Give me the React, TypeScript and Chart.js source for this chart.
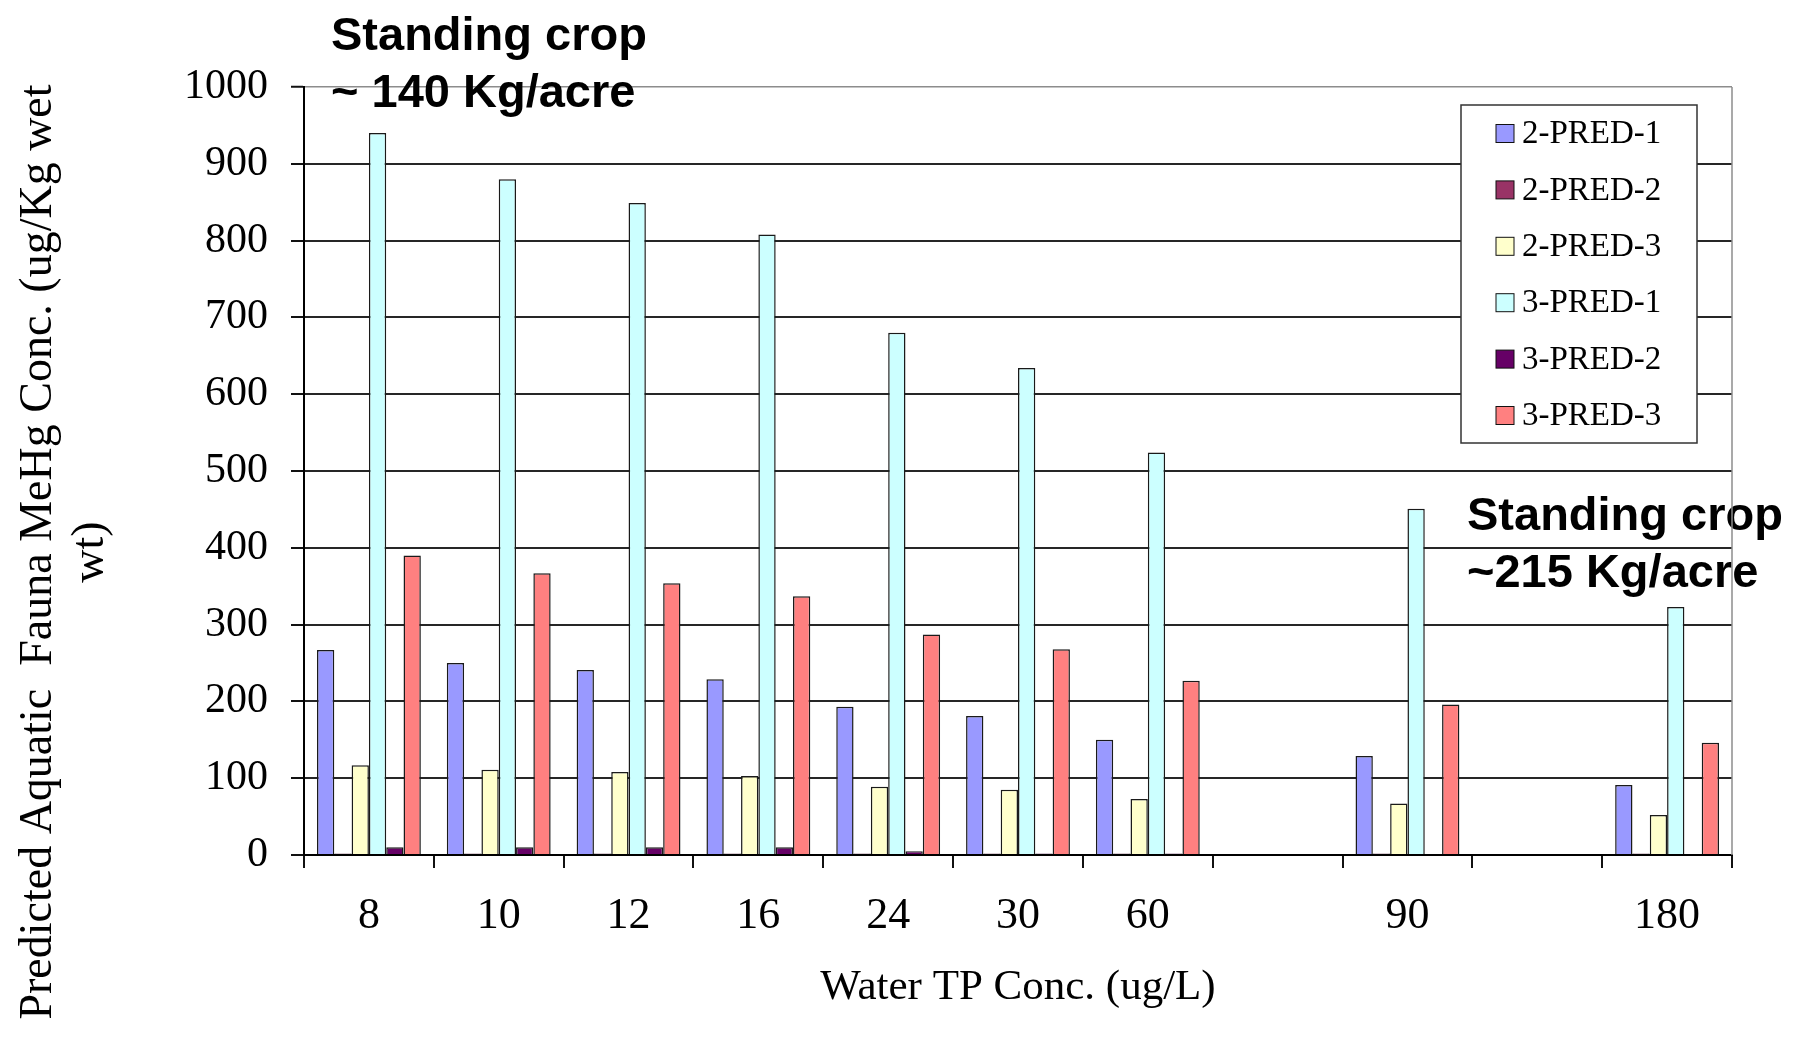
import React, { useEffect, useRef } from "react";
import { Chart, registerables } from "chart.js";

Chart.register(...registerables);

const categories = ["8", "10", "12", "16", "24", "30", "60", "", "90", "", "180"];
const seriesNames = ["2-PRED-1", "2-PRED-2", "2-PRED-3", "3-PRED-1", "3-PRED-2", "3-PRED-3"];
const pred2_1 = [267, 250, 241, 229, 193, 181, 150, null, 129, null, 91];
const pred2_2 = [2, 2, 2, 2, 2, 2, 2, null, 2, null, 2];
const pred2_3 = [117, 111, 108, 103, 89, 85, 73, null, 67, null, 52];
const pred3_1 = [940, 880, 849, 808, 680, 634, 524, null, 451, null, 323];
const pred3_2 = [10, 10, 10, 10, 5, 2, 2, null, 1, null, 1];
const pred3_3 = [390, 367, 354, 337, 287, 268, 227, null, 196, null, 146];
const seriesColors = ["#9999FF", "#993366", "#FFFFCC", "#CCFFFF", "#660066", "#FF8080"];
const yTicks = [0, 100, 200, 300, 400, 500, 600, 700, 800, 900, 1000];

const yTitleLines = ["Predicted Aquatic  Fauna MeHg Conc. (ug/Kg wet", "wt)"];
const xTitle = "Water TP Conc. (ug/L)";
const note1 = ["Standing crop", "~ 140 Kg/acre"];
const note2 = ["Standing crop", "~215 Kg/acre"];

const SERIF = '"Liberation Serif", "Times New Roman", serif';
const SANS = '"Liberation Sans", Arial, sans-serif';

const overlayPlugin = {
  id: "overlay",
  afterDatasetsDraw(chart: any) {
    const ctx: CanvasRenderingContext2D = chart.ctx;
    // legend
    ctx.save();
    const bx = 1461, by = 105, bw = 236, bh = 338;
    ctx.fillStyle = "#ffffff";
    ctx.fillRect(bx, by, bw, bh);
    ctx.strokeStyle = "#333333";
    ctx.lineWidth = 1.5;
    ctx.strokeRect(bx, by, bw, bh);
    ctx.font = `33px ${SERIF}`;
    ctx.textAlign = "left";
    ctx.textBaseline = "middle";
    chart.data.datasets.forEach((ds: any, i: number) => {
      const cy = 133.5 + i * 56.4;
      ctx.fillStyle = ds.backgroundColor;
      ctx.fillRect(1496, cy - 9, 18, 18);
      ctx.strokeStyle = "#111";
      ctx.lineWidth = 1;
      ctx.strokeRect(1496, cy - 9, 18, 18);
      ctx.fillStyle = "#000";
      ctx.fillText(ds.label, 1522, cy + 1);
    });
    // annotations
    ctx.font = `bold 47px ${SANS}`;
    ctx.textBaseline = "alphabetic";
    ctx.fillStyle = "#000";
    ctx.fillText(note1[0], 331, 50);
    ctx.fillText(note1[1], 331, 107);
    ctx.fillText(note2[0], 1467, 530);
    ctx.fillText(note2[1], 1467, 587);
    ctx.restore();
  },
  afterDraw(chart: any) {
    const ctx: CanvasRenderingContext2D = chart.ctx;
    const a = chart.chartArea;
    ctx.save();
    ctx.strokeStyle = "#8c8c8c";
    ctx.lineWidth = 1.5;
    ctx.beginPath();
    ctx.moveTo(a.right, a.top);
    ctx.lineTo(a.right, a.bottom);
    ctx.stroke();
    // y title
    ctx.translate(51, 552);
    ctx.rotate(-Math.PI / 2);
    ctx.font = `46px ${SERIF}`;
    ctx.fillStyle = "#000";
    ctx.textAlign = "center";
    ctx.textBaseline = "alphabetic";
    ctx.fillText(yTitleLines[0], 0, 0);
    ctx.fillText(yTitleLines[1], 0, 52);
    ctx.restore();
  },
};

export default function App() {
  const ref = useRef<HTMLCanvasElement | null>(null);
  useEffect(() => {
    if (!ref.current) return;
    const all = [pred2_1, pred2_2, pred2_3, pred3_1, pred3_2, pred3_3];
    const chart = new Chart(ref.current, {
      type: "bar",
      data: {
        labels: categories,
        datasets: all.map((d, i) => ({
          label: seriesNames[i],
          data: d,
          backgroundColor: seriesColors[i],
          borderColor: "#1a1a1a",
          borderWidth: 1.5,
          categoryPercentage: 0.8,
          barPercentage: 1.0,
        })),
      },
      options: {
        animation: false,
        responsive: false,
        devicePixelRatio: 1,
        layout: { padding: { top: 87, right: 73, left: 0, bottom: 0 } },
        plugins: { legend: { display: false }, tooltip: { enabled: false } },
        scales: {
          x: {
            afterFit: (s: any) => { s.height = 182; },
            grid: {
              display: true,
              drawOnChartArea: false,
              drawTicks: true,
              tickLength: 13,
              color: "#111",
              lineWidth: 2,
              offset: true,
            },
            border: { display: true, color: "#000", width: 2 },
            ticks: {
              autoSkip: false,
              maxRotation: 0,
              padding: 22,
              color: "#000",
              font: { family: SERIF, size: 44 },
            },
            title: {
              display: true,
              text: xTitle,
              color: "#000",
              font: { family: SERIF, size: 43 },
              padding: { top: 0, bottom: 23 },
            },
          },
          y: {
            min: 0,
            max: 1000,
            afterFit: (s: any) => { s.width = 304; },
            afterBuildTicks: (s: any) => { s.ticks = yTicks.map((v) => ({ value: v })); },
            grid: {
              color: (c: any) => (c.tick && c.tick.value === 1000 ? "#8c8c8c" : "#262626"),
              lineWidth: (c: any) => (c.tick && c.tick.value === 1000 ? 1.5 : 2),
              tickColor: "#111",
              tickLength: 13,
              tickWidth: 2,
            },
            border: { display: true, color: "#000", width: 2 },
            ticks: {
              padding: 23,
              color: "#000",
              font: { family: SERIF, size: 42 },
              callback: (v: any) => String(v),
            },
          },
        },
      },
      plugins: [overlayPlugin],
    } as any);
    return () => chart.destroy();
  }, []);
  return (
    <div style={{ position: "fixed", left: 0, top: 0, width: 1805, height: 1037, background: "#fff" }}>
      <canvas ref={ref} width={1805} height={1037} style={{ width: 1805, height: 1037, display: "block" }} />
    </div>
  );
}
